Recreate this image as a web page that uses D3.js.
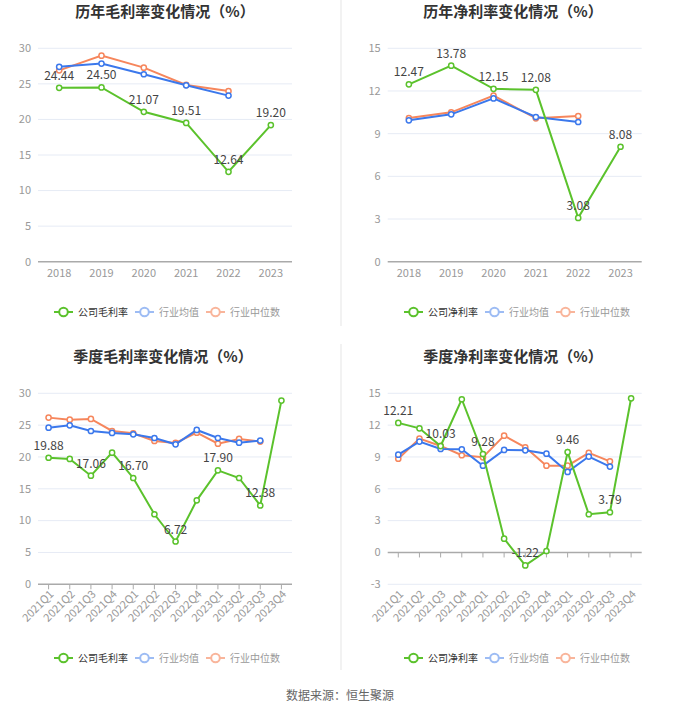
<!DOCTYPE html>
<html><head><meta charset="utf-8">
<script src="https://cdn.jsdelivr.net/npm/d3@7/dist/d3.min.js"></script>
<style>body{margin:0;background:#fff;}svg{display:block;font-family:"Noto Sans CJK SC","Noto Sans",sans-serif;}</style>
</head><body>
<svg id="c" width="680" height="712"></svg>
<script>
const years = ["2018","2019","2020","2021","2022","2023"];
const quarters = ["2021Q1","2021Q2","2021Q3","2021Q4","2022Q1","2022Q2","2022Q3","2022Q4","2023Q1","2023Q2","2023Q3","2023Q4"];

const annualGrossCompany = [24.44,24.50,21.07,19.51,12.64,19.20];
const annualGrossAvg = [27.4,27.85,26.35,24.8,23.35];
const annualGrossMedian = [26.9,28.97,27.28,24.85,24.0];

const annualNetCompany = [12.47,13.78,12.15,12.08,3.08,8.08];
const annualNetAvg = [9.94,10.36,11.48,10.17,9.82];
const annualNetMedian = [10.1,10.5,11.67,10.08,10.24];

const quarterGrossCompany = [19.88,19.69,17.06,20.68,16.70,11.0,6.72,13.19,17.90,16.70,12.38,28.85];
const quarterGrossAvg = [24.6,24.97,24.08,23.77,23.56,22.98,21.99,24.24,22.98,22.25,22.57];
const quarterGrossMedian = [26.18,25.86,25.97,24.08,23.72,22.51,22.2,23.82,22.09,22.83,22.41];

const quarterNetCompany = [12.21,11.70,10.03,14.44,9.28,1.30,-1.22,0.14,9.46,3.60,3.79,14.53];
const quarterNetAvg = [9.22,10.45,9.75,9.72,8.18,9.66,9.63,9.31,7.59,9.04,8.09];
const quarterNetMedian = [8.84,10.73,10.04,9.16,8.97,11.01,9.91,8.18,8.18,9.38,8.59];

const grossTicks = [0,5,10,15,20,25,30];
const netAnnualTicks = [0,3,6,9,12,15];
const netQuarterTicks = [-3,0,3,6,9,12,15];

const C_GREEN = "#5bc22c", C_BLUE = "#3b78ec", C_ORANGE = "#f6865c";

const svg = d3.select("#c");

// dividers
svg.append("line").attr("x1",341).attr("x2",341).attr("y1",0).attr("y2",326).attr("stroke","#f2f2f2").attr("stroke-width",2);
svg.append("line").attr("x1",341).attr("x2",341).attr("y1",344).attr("y2",670).attr("stroke","#f2f2f2").attr("stroke-width",2);

function panel(o){
  const g = svg.append("g");
  const x = d3.scalePoint().domain(o.cats).range([o.left,o.right]).padding(0.5);
  const y = d3.scaleLinear().domain(o.domain).range([o.bottom,o.top]);
  g.append("text").attr("x",o.titleX).attr("y",o.titleY).attr("text-anchor","middle")
    .attr("font-size",15).attr("font-weight","bold").attr("fill","#333").text(o.title);
  o.ticks.forEach(t=>{
    if (t!==o.axisAt) g.append("line").attr("x1",o.left).attr("x2",o.right).attr("y1",y(t)).attr("y2",y(t))
      .attr("stroke","#e6ebf5").attr("stroke-width",1);
    g.append("text").attr("x",o.left-7).attr("y",y(t)).attr("dy","0.35em").attr("text-anchor","end")
      .attr("font-size",11).attr("fill","#999").text(t);
  });
  const ay = y(o.axisAt);
  g.append("line").attr("x1",o.left).attr("x2",o.right).attr("y1",ay).attr("y2",ay).attr("stroke","#aaa").attr("stroke-width",1.5);
  o.cats.forEach(c=>{
    if (o.rotate){
      g.append("line").attr("x1",x(c)).attr("x2",x(c)).attr("y1",ay).attr("y2",ay+5).attr("stroke","#aaa").attr("stroke-width",1);
      g.append("text").attr("transform",`translate(${x(c)+3},${o.bottom+8}) rotate(-45)`).attr("text-anchor","end")
        .attr("dy","0.35em").attr("font-size",11).attr("fill","#999").text(c);
    } else {
      g.append("text").attr("x",x(c)).attr("y",o.bottom+15).attr("text-anchor","middle")
        .attr("font-size",11).attr("fill","#999").text(c);
    }
  });
  const line = d3.line().x((d,i)=>x(o.cats[i])).y(d=>y(d));
  const series = [[o.median,C_ORANGE],[o.avg,C_BLUE],[o.company,C_GREEN]];
  series.forEach(([vals,col])=>{
    g.append("path").attr("d",line(vals)).attr("fill","none").attr("stroke",col).attr("stroke-width",2);
    vals.forEach((v,i)=>{
      g.append("circle").attr("cx",x(o.cats[i])).attr("cy",y(v)).attr("r",2.6)
        .attr("fill","#fff").attr("stroke",col).attr("stroke-width",1.5);
    });
  });
  o.company.forEach((v,i)=>{
    if (o.labelIdx.includes(i)){
      g.append("text").attr("x",x(o.cats[i])).attr("y",y(v)-8).attr("text-anchor","middle")
        .attr("font-size",12).attr("fill","#444").text(v.toFixed(2));
    }
  });
  const items = [[o.legendName,C_GREEN,"#333"],["行业均值","#9dbcf4","#999"],["行业中位数","#f9b59b","#999"]];
  const xs = [0,81,152];
  items.forEach(([name,col,tc],k)=>{
    const lx = o.legendX + xs[k], ly = o.legendY;
    g.append("line").attr("x1",lx).attr("x2",lx+19).attr("y1",ly).attr("y2",ly).attr("stroke",col).attr("stroke-width",2);
    g.append("circle").attr("cx",lx+9.5).attr("cy",ly).attr("r",4.3).attr("fill","#fff").attr("stroke",col).attr("stroke-width",2);
    g.append("text").attr("x",lx+24).attr("y",ly).attr("dy","0.35em").attr("font-size",10).attr("fill",tc).text(name);
  });
}

panel({cats:years,domain:[0,30],ticks:grossTicks,axisAt:0,left:38,right:292,top:48.3,bottom:261.7,
  title:"历年毛利率变化情况（%）",titleX:165,titleY:17,company:annualGrossCompany,avg:annualGrossAvg,median:annualGrossMedian,
  labelIdx:[0,1,2,3,4,5],legendName:"公司毛利率",legendX:54,legendY:312,rotate:false});
panel({cats:years,domain:[0,15],ticks:netAnnualTicks,axisAt:0,left:387.7,right:641.7,top:48.3,bottom:261.7,
  title:"历年净利率变化情况（%）",titleX:513,titleY:17,company:annualNetCompany,avg:annualNetAvg,median:annualNetMedian,
  labelIdx:[0,1,2,3,4,5],legendName:"公司净利率",legendX:404,legendY:312,rotate:false});
panel({cats:quarters,domain:[0,30],ticks:grossTicks,axisAt:0,left:38,right:292,top:393.3,bottom:584.3,
  title:"季度毛利率变化情况（%）",titleX:163,titleY:362,company:quarterGrossCompany,avg:quarterGrossAvg,median:quarterGrossMedian,
  labelIdx:[0,2,4,6,8,10],legendName:"公司毛利率",legendX:54,legendY:658,rotate:true});
panel({cats:quarters,domain:[-3,15],ticks:netQuarterTicks,axisAt:0,left:387.7,right:641.7,top:393.3,bottom:584.3,
  title:"季度净利率变化情况（%）",titleX:513,titleY:362,company:quarterNetCompany,avg:quarterNetAvg,median:quarterNetMedian,
  labelIdx:[0,2,4,6,8,10],legendName:"公司净利率",legendX:404,legendY:658,rotate:true});

svg.append("text").attr("x",340).attr("y",700).attr("text-anchor","middle").attr("font-size",12).attr("fill","#666").text("数据来源：恒生聚源");
</script>
</body></html>
